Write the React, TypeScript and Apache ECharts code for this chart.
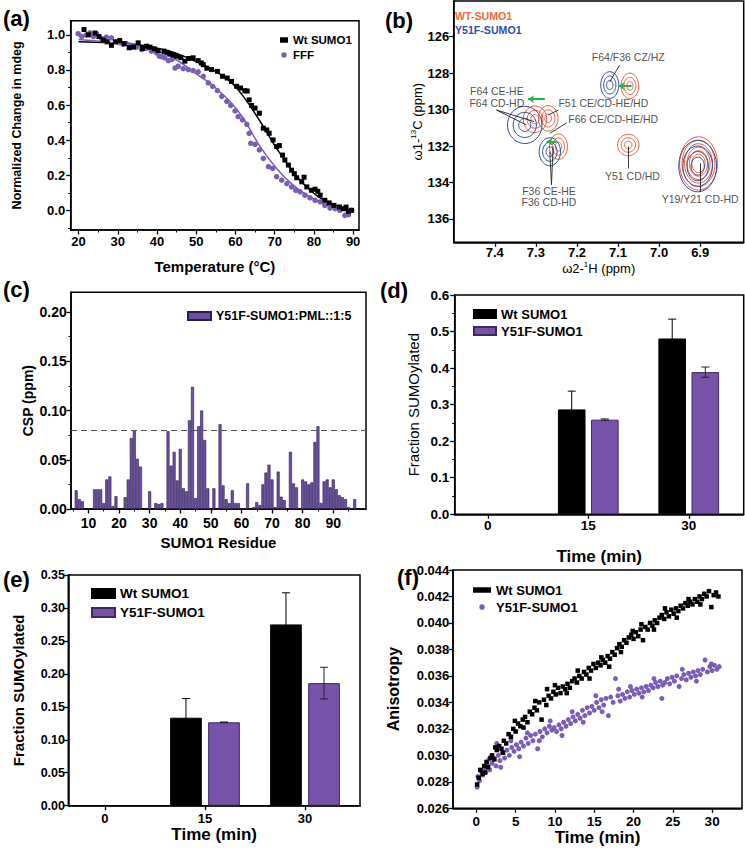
import React, { useEffect, useRef } from 'react';
import * as echarts from 'echarts';

const F = '"Liberation Sans", Arial, Helvetica, sans-serif';
const PURPLE = '#7b5cb6';
const BAR_PURPLE = '#7852a9';
const NMR_RED = '#ee5b3a';
const NMR_BLUE = '#2c4b9f';
const GREEN = '#2bb04a';

// ---------- (a) thermal melt ----------
const aXTicks = [20, 30, 40, 50, 60, 70, 80, 90];
const aYTicks = [0, 0.2, 0.4, 0.6, 0.8, 1.0];
const aWtPoints: [number, number][] = [
  [21.4, 1.03], [22.5, 1.0], [24.2, 1.01], [25.2, 0.99], [26.3, 0.97], [27.3, 0.96], [28.4, 0.94], [29.4, 0.96],
  [30.5, 0.967], [31.6, 0.95], [32.9, 0.926], [34.0, 0.93], [35.2, 0.954], [36.3, 0.922], [37.3, 0.935], [38.2, 0.93],
  [39.3, 0.92], [40.3, 0.91], [41.8, 0.907], [42.6, 0.9], [43.3, 0.891], [44.2, 0.885], [45.0, 0.878], [46.1, 0.87],
  [47.1, 0.85], [48.1, 0.865], [49.2, 0.869], [50.5, 0.853], [51.3, 0.84], [51.8, 0.83], [52.7, 0.81], [53.9, 0.802],
  [55.4, 0.792], [56.7, 0.764], [57.9, 0.754], [59.0, 0.735], [60.3, 0.707], [61.3, 0.697], [62.4, 0.682], [63.0, 0.68],
  [63.5, 0.63], [64.1, 0.598], [65.0, 0.583], [66.1, 0.554], [67.1, 0.469], [68.0, 0.459], [68.6, 0.44], [69.6, 0.402],
  [70.5, 0.364], [71.2, 0.37], [72.0, 0.316], [72.6, 0.288], [73.5, 0.259], [74.3, 0.23], [75.0, 0.21], [75.6, 0.187],
  [76.9, 0.164], [77.5, 0.19], [78.2, 0.135], [79.4, 0.116], [80.3, 0.122], [81.0, 0.11], [81.6, 0.088], [82.8, 0.059],
  [83.9, 0.044], [85.1, 0.03], [86.5, 0.021], [87.5, 0.011], [88.2, 0.02], [88.8, -0.004], [89.6, 0.002],
];
const aFffPoints: [number, number][] = [
  [19.9, 1.006], [20.8, 0.99], [21.9, 0.998], [22.9, 1.011], [23.8, 0.99], [24.6, 1.006], [25.9, 0.979], [27.1, 0.987],
  [28.4, 0.983], [29.7, 0.96], [30.5, 0.955], [31.4, 0.945], [32.2, 0.95], [33.1, 0.941], [34.0, 0.935], [34.8, 0.93],
  [36.1, 0.916], [37.3, 0.922], [38.6, 0.907], [39.9, 0.897], [40.6, 0.878], [41.3, 0.875], [42.0, 0.869], [42.9, 0.853],
  [43.8, 0.86], [44.6, 0.811], [45.4, 0.821], [46.7, 0.807], [48.0, 0.802], [49.2, 0.796], [50.5, 0.789], [51.8, 0.764],
  [53.1, 0.726], [54.2, 0.707], [55.4, 0.682], [56.5, 0.65], [57.8, 0.621], [58.8, 0.598], [59.9, 0.567], [60.7, 0.535],
  [61.8, 0.516], [62.9, 0.491], [63.5, 0.44], [63.9, 0.383], [65.0, 0.377], [66.1, 0.345], [67.1, 0.297], [68.4, 0.25],
  [69.5, 0.24], [70.5, 0.193], [71.8, 0.173], [73.1, 0.154], [74.3, 0.135], [75.4, 0.116], [76.5, 0.107], [77.7, 0.088],
  [79.0, 0.073], [80.3, 0.059], [81.6, 0.05], [82.8, 0.03], [84.1, 0.015], [85.4, 0.011], [86.6, 0.002], [87.9, -0.027],
  [88.8, -0.023], [89.6, 0.002],
];
const aWtFit: [number, number][] = [
  [20, 0.96], [34.8, 0.945], [43.3, 0.907], [51.8, 0.83], [53.5, 0.811], [58.6, 0.735], [62, 0.65], [66.3, 0.507],
  [70.5, 0.354], [74.7, 0.221], [79, 0.116], [83.3, 0.05], [89.2, 0.002], [90, 0],
];
const aFffFit: [number, number][] = [
  [20, 0.973], [34.8, 0.935], [43.3, 0.878], [51.8, 0.75], [53.5, 0.726], [58.6, 0.621], [62, 0.526], [66.3, 0.364],
  [70.5, 0.24], [74.7, 0.145], [79, 0.078], [83.3, 0.03], [89.2, -0.004], [90, -0.005],
];
const aXMinor = [25, 35, 45, 55, 65, 75, 85];
const aYMinor = [-0.1, 0.1, 0.3, 0.5, 0.7, 0.9];

// ---------- (b) NMR ----------
const bXTicks = [7.4, 7.3, 7.2, 7.1, 7.0, 6.9];
const bYTicks = [126, 128, 130, 132, 134, 136];
// [center 1H, center 13C, radius 1H, radius 13C, number of contour levels]
const bRedPeaks = [
  [7.071, 128.7, 0.0215, 0.7, 3],
  [7.075, 131.94, 0.026, 0.59, 3],
  [6.904, 132.95, 0.046, 1.46, 6],
  [7.302, 130.53, 0.0285, 0.73, 3],
  [7.27, 130.48, 0.024, 0.7, 3],
  [7.245, 132.03, 0.022, 0.7, 3],
];
const bBluePeaks = [
  [7.12, 128.65, 0.022, 0.73, 3],
  [7.327, 130.84, 0.042, 1.02, 3],
  [7.266, 132.31, 0.026, 0.77, 3],
  [6.906, 133.1, 0.046, 1.41, 4],
];
const bLabels: [number, number, string, string][] = [
  [7.075, 127.14, 'F64/F36 CZ/HZ', 'center'],
  [7.395, 128.98, 'F64 CE-HE', 'center'],
  [7.395, 129.61, 'F64 CD-HD', 'center'],
  [7.245, 129.61, 'F51 CE/CD-HE/HD', 'left'],
  [7.221, 130.54, 'F66 CE/CD-HE/HD', 'left'],
  [7.268, 134.45, 'F36 CE-HE', 'center'],
  [7.268, 135.08, 'F36 CD-HD', 'center'],
  [7.065, 133.64, 'Y51 CD/HD', 'center'],
  [6.9, 134.93, 'Y19/Y21 CD-HD', 'center'],
];
const bLeaders: [number, number][][] = [
  [[7.096, 127.55], [7.12, 128.48]],
  [[7.396, 130.02], [7.323, 130.84]],
  [[7.396, 130.02], [7.304, 130.66]],
  [[7.245, 130.02], [7.27, 130.3]],
  [[7.225, 130.73], [7.266, 131.3]],
  [[7.262, 134.13], [7.266, 132.31]],
  [[7.262, 134.13], [7.258, 132.03]],
  [[7.075, 133.22], [7.075, 132.03]],
  [[6.9, 134.5], [6.9, 132.94]],
];
const bShiftArrows: [number, number][][] = [
  [[7.278, 129.43], [7.319, 129.43]],
  [[7.25, 131.76], [7.274, 131.76]],
  [[7.067, 128.7], [7.099, 128.7]],
];

// ---------- (c) CSP ----------
const cXTicks = [10, 20, 30, 40, 50, 60, 70, 80, 90];
const cXMinor = [5, 15, 25, 35, 45, 55, 65, 75, 85, 95];
const cYTicks = [0, 0.05, 0.1, 0.15, 0.2];
const cYMinor = [0.025, 0.075, 0.125, 0.175];
const cThreshold = 0.076;
const cResidues = [
  6, 7, 8, 12, 13, 14, 15, 16, 17, 18, 19, 22, 23, 24, 25, 26, 27, 30, 32, 33, 34, 36, 37, 38, 39, 40, 41, 42, 43, 44,
  45, 46, 47, 48, 49, 51, 53, 54, 55, 56, 57, 58, 59, 62, 64, 65, 66, 67, 68, 69, 70, 71, 72, 73, 74, 76, 77, 78, 80,
  81, 82, 83, 84, 85, 86, 87, 88, 89, 90, 91, 92, 93, 94, 95, 96, 97,
];
const cCsp = [
  0.019, 0.01, 0.008, 0.02, 0.02, 0.02, 0.006, 0.03, 0.033, 0.003, 0.013, 0.012, 0.03, 0.072, 0.08, 0.051, 0.043, 0.018,
  0.006, 0.005, 0.006, 0.079, 0.044, 0.058, 0.029, 0.061, 0.021, 0.018, 0.09, 0.124, 0.011, 0.084, 0.1, 0.07, 0.021,
  0.021, 0.086, 0.024, 0.01, 0.006, 0.019, 0.006, 0.006, 0.026, 0.002, 0.007, 0.004, 0.025, 0.037, 0.045, 0.03, 0.002,
  0.038, 0.0125, 0.009, 0.058, 0.026, 0.022, 0.03, 0.028, 0.025, 0.027, 0.068, 0.084, 0.006, 0.028, 0.03, 0.022, 0.03,
  0.02, 0.014, 0.012, 0.01, 0.002, 0.001, 0.01,
];

// ---------- (d), (e) SUMOylation ----------
const timePoints = [0, 15, 30];
const dYTicks = [0, 0.1, 0.2, 0.3, 0.4, 0.5, 0.6];
const dYMinor = [0.05, 0.15, 0.25, 0.35, 0.45, 0.55];
const dWt = [0, 0.287, 0.481];
const dWtErr = [0, 0.05, 0.053];
const dY51F = [0, 0.259, 0.389];
const dY51FErr = [0, 0.002, 0.014];
const eYTicks = [0, 0.05, 0.1, 0.15, 0.2, 0.25, 0.3, 0.35];
const eWt = [0, 0.1335, 0.275];
const eWtErr = [0, 0.029, 0.048];
const eY51F = [0, 0.1265, 0.186];
const eY51FErr = [0, 0.0005, 0.024];

// ---------- (f) anisotropy ----------
const fXTicks = [0, 5, 10, 15, 20, 25, 30];
const fYTicks = [0.026, 0.028, 0.03, 0.032, 0.034, 0.036, 0.038, 0.04, 0.042, 0.044];
const fWtPoints: [number, number][] = [
  [0.1, 0.0278], [0.3, 0.0283], [0.5, 0.0289], [0.8, 0.0286], [1.0, 0.0292], [1.3, 0.0295], [1.5, 0.0291], [1.8, 0.0298],
  [2.0, 0.03], [2.3, 0.0297], [2.6, 0.0304], [2.9, 0.0307], [3.2, 0.0305], [3.5, 0.0311], [3.8, 0.0309], [4.1, 0.0316],
  [4.4, 0.0314], [4.7, 0.032], [5.0, 0.0318], [5.3, 0.0324], [5.6, 0.0322], [5.9, 0.0327], [6.2, 0.0329], [6.5, 0.0325],
  [6.8, 0.0333], [7.1, 0.0331], [7.4, 0.0336], [7.7, 0.0334], [8.0, 0.034], [8.3, 0.0327], [8.6, 0.0342], [8.9, 0.0338],
  [9.2, 0.0345], [9.5, 0.0343], [9.8, 0.0348], [10.1, 0.0346], [10.4, 0.0351], [10.7, 0.0347], [11.0, 0.0352],
  [11.3, 0.035], [11.6, 0.0354], [11.9, 0.0351], [12.2, 0.0356], [12.5, 0.0358], [12.8, 0.0355], [13.1, 0.036],
  [13.4, 0.0358], [13.7, 0.0363], [14.0, 0.0361], [14.3, 0.0366], [14.6, 0.0364], [14.9, 0.0369], [15.2, 0.0366],
  [15.5, 0.037], [15.8, 0.0368], [16.1, 0.0372], [16.4, 0.037], [16.7, 0.0375], [17.0, 0.0373], [17.3, 0.0378],
  [17.6, 0.0376], [17.9, 0.0381], [18.2, 0.0384], [18.5, 0.0382], [18.8, 0.0387], [19.1, 0.0385], [19.4, 0.0389],
  [19.7, 0.0391], [20.0, 0.0388], [20.3, 0.0393], [20.6, 0.039], [20.9, 0.0395], [21.2, 0.0387], [21.5, 0.0397],
  [21.8, 0.0395], [22.1, 0.04], [22.4, 0.0398], [22.7, 0.0402], [23.0, 0.04], [23.3, 0.0404], [23.6, 0.0406],
  [23.9, 0.0403], [24.2, 0.0408], [24.5, 0.0405], [24.8, 0.041], [25.1, 0.0407], [25.4, 0.0411], [25.7, 0.0409],
  [26.0, 0.0413], [26.3, 0.0411], [26.6, 0.0415], [26.9, 0.0413], [27.2, 0.0416], [27.5, 0.0414], [27.8, 0.0418],
  [28.1, 0.0416], [28.4, 0.042], [28.7, 0.0418], [29.0, 0.0422], [29.3, 0.042], [29.6, 0.0424], [29.9, 0.0412],
  [30.2, 0.0421], [30.5, 0.0423], [30.8, 0.042],
  [1.1, 0.0287], [2.4, 0.0306], [3.4, 0.0302], [4.9, 0.0326], [6.0, 0.0321], [7.5, 0.0341], [9.0, 0.035],
  [10.0, 0.0353], [11.5, 0.0347], [12.9, 0.0364], [14.4, 0.0358], [15.9, 0.0374], [16.9, 0.0367], [18.4, 0.0378],
  [19.9, 0.0394], [21.0, 0.0399], [22.6, 0.0395], [24.0, 0.0411], [25.5, 0.0404], [27.0, 0.0418], [28.5, 0.0414],
];
const fY51FPoints: [number, number][] = [
  [0.1, 0.0276], [0.2, 0.0284], [0.4, 0.0281], [0.6, 0.0288], [0.8, 0.0285], [1.0, 0.029], [1.2, 0.0287], [1.4, 0.0293],
  [1.7, 0.0289], [2.0, 0.0294], [2.2, 0.0298], [2.5, 0.0292], [2.8, 0.03], [3.0, 0.0296], [3.3, 0.0302], [3.6, 0.0298],
  [3.9, 0.0304], [4.2, 0.03], [4.5, 0.0306], [4.8, 0.0303], [5.1, 0.0308], [5.4, 0.0305], [5.7, 0.031], [6.0, 0.0307],
  [6.3, 0.0313], [6.6, 0.0309], [6.9, 0.0315], [7.2, 0.0311], [7.5, 0.0316], [7.8, 0.0305], [8.1, 0.0318], [8.4, 0.0314],
  [8.7, 0.032], [9.0, 0.0317], [9.3, 0.0322], [9.6, 0.0319], [9.9, 0.0321], [10.2, 0.0318], [10.5, 0.0323],
  [10.8, 0.032], [11.1, 0.0325], [11.4, 0.0322], [11.7, 0.0327], [12.0, 0.0324], [12.3, 0.0329], [12.6, 0.0326],
  [12.9, 0.0331], [13.2, 0.0328], [13.5, 0.0334], [13.8, 0.033], [14.1, 0.0336], [14.4, 0.0332], [14.7, 0.0337],
  [15.0, 0.0334], [15.3, 0.034], [15.6, 0.0336], [15.9, 0.0342], [16.2, 0.0338], [16.5, 0.0343], [16.8, 0.033],
  [17.1, 0.0344], [17.4, 0.034], [17.7, 0.0358], [18.0, 0.0345], [18.3, 0.0341], [18.6, 0.0346], [18.9, 0.0343],
  [19.2, 0.0348], [19.5, 0.0344], [19.8, 0.0349], [20.1, 0.0346], [20.4, 0.035], [20.7, 0.0347], [21.0, 0.0351],
  [21.3, 0.0348], [21.6, 0.0352], [21.9, 0.0349], [22.2, 0.0353], [22.5, 0.0351], [22.8, 0.0355], [23.1, 0.0352],
  [23.4, 0.0356], [23.6, 0.0343], [23.7, 0.0353], [24.0, 0.0355], [24.3, 0.0358], [24.6, 0.0354], [24.9, 0.0359],
  [25.2, 0.0356], [25.5, 0.036], [26.1, 0.0358], [26.4, 0.0361], [26.7, 0.0357], [27.0, 0.0362], [27.3, 0.0359],
  [27.6, 0.0363], [27.9, 0.036], [28.2, 0.0364], [28.5, 0.0361], [28.8, 0.0365], [29.1, 0.0372], [29.4, 0.0363],
  [29.7, 0.0367], [30.0, 0.0364], [30.3, 0.0368], [30.6, 0.0365], [30.9, 0.0367],
  [1.6, 0.0297], [2.6, 0.0309], [3.1, 0.0291], [4.4, 0.0311], [5.5, 0.0299], [6.5, 0.0317], [8.0, 0.0311],
  [9.4, 0.0326], [10.9, 0.0315], [12.2, 0.0333], [13.6, 0.0325], [15.2, 0.0345], [16.0, 0.0333], [18.1, 0.035],
  [19.6, 0.0352], [21.1, 0.0344], [22.6, 0.0358], [25.8, 0.0352], [26.2, 0.0365], [28.0, 0.0356], [29.9, 0.0369],
];

// ---------- helpers ----------
const fixed = (n: number) => (v: number) => Number(v).toFixed(n);
const trimName = (n: string) => n.trim();

function axis(o: any) {
  return {
    type: 'value',
    gridIndex: o.grid,
    min: o.min,
    max: o.max,
    inverse: !!o.inverse,
    position: o.isY ? 'left' : 'bottom',
    axisLine: { show: true, onZero: false, lineStyle: { color: '#000', width: 1.5 } },
    axisTick: { show: true, length: 4.5, customValues: o.ticks, lineStyle: { color: '#000', width: 1.3 } },
    axisLabel: {
      customValues: o.ticks,
      formatter: o.fmt,
      color: '#000',
      fontFamily: F,
      fontWeight: 'bold',
      fontSize: o.size,
      margin: o.margin,
    },
    splitLine: { show: false },
    name: o.name,
    nameLocation: 'middle',
    nameGap: o.gap,
    nameRotate: o.isY ? 90 : 0,
    nameTextStyle: {
      color: '#000',
      fontFamily: F,
      fontWeight: o.nameWeight || 'bold',
      fontSize: o.nameSize,
      rich: o.rich,
    },
  };
}

// tick-only twin axis for minor ticks, sitting on the same edge as the main axis
function minorAxis(grid: number, min: number, max: number, ticks: number[], isY: boolean) {
  return {
    type: 'value', gridIndex: grid, min, max,
    position: isY ? 'left' : 'bottom',
    offset: 0,
    axisLine: { show: false, onZero: false },
    axisTick: { show: true, length: 2.5, customValues: ticks, lineStyle: { color: '#000', width: 1 } },
    axisLabel: { show: false, customValues: ticks },
    splitLine: { show: false },
  };
}

function contourData(peaks: number[][]) {
  const out: number[][] = [];
  peaks.forEach(([x, y, rx, ry, n]) => {
    for (let k = 0; k < n; k++) {
      const s = n > 1 ? 1 - (k * 0.65) / (n - 1) : 1;
      out.push([x, y, rx * s, ry * s]);
    }
  });
  return out;
}

function contourSeries(peaks: number[][], color: string) {
  return {
    type: 'custom',
    xAxisIndex: 1,
    yAxisIndex: 1,
    clip: true,
    data: contourData(peaks),
    renderItem: (_p: any, api: any) => {
      const xc = api.value(0), yc = api.value(1), rx = api.value(2), ry = api.value(3);
      const pts: number[][] = [];
      for (let i = 0; i < 48; i++) {
        const t = (i / 48) * Math.PI * 2;
        pts.push(api.coord([xc + rx * Math.cos(t), yc + ry * Math.sin(t)]));
      }
      return { type: 'polygon', shape: { points: pts }, style: { fill: 'none', stroke: color, lineWidth: 1 } };
    },
    z: 2,
  };
}

function errSeries(grid: number, vals: number[], errs: number[], shift: number, color: string) {
  const data = timePoints
    .map((t, i) => [t, vals[i] - errs[i], vals[i] + errs[i], errs[i]])
    .filter((d) => d[3] > 0);
  return {
    type: 'custom',
    xAxisIndex: grid,
    yAxisIndex: grid,
    data,
    z: 5,
    renderItem: (_p: any, api: any) => {
      const x = api.value(0);
      const lo = api.coord([x, api.value(1)]);
      const hi = api.coord([x, api.value(2)]);
      const cx = hi[0] + shift;
      const st = { stroke: color, lineWidth: 1 };
      return {
        type: 'group',
        children: [
          { type: 'line', shape: { x1: cx, y1: lo[1], x2: cx, y2: hi[1] }, style: st },
          { type: 'line', shape: { x1: cx - 4, y1: hi[1], x2: cx + 4, y2: hi[1] }, style: st },
          { type: 'line', shape: { x1: cx - 4, y1: lo[1], x2: cx + 4, y2: lo[1] }, style: st },
        ],
      };
    },
  };
}

const nz = (v: number) => (v === 0 ? '-' : v);

function barPair(grid: number, wt: number[], mut: number[], wtName: string, mutName: string, w: number) {
  return [
    {
      type: 'bar', name: wtName, xAxisIndex: grid, yAxisIndex: grid, barWidth: w, barGap: '20%',
      data: timePoints.map((t, i) => [t, nz(wt[i])]),
      itemStyle: { color: '#000', borderColor: '#000', borderWidth: 1 },
    },
    {
      type: 'bar', name: mutName, xAxisIndex: grid, yAxisIndex: grid, barWidth: w, barGap: '20%',
      data: timePoints.map((t, i) => [t, nz(mut[i])]),
      itemStyle: { color: BAR_PURPLE, borderColor: '#3a2a5c', borderWidth: 1 },
    },
  ];
}

const legendText = (size: number, lh: number) => ({ color: '#000', fontFamily: F, fontWeight: 'bold', fontSize: size, lineHeight: lh });

function panelLabel(text: string, x: number, y: number) {
  return {
    type: 'text', x, y,
    style: { text, fill: '#000', fontFamily: F, fontWeight: 'bold', fontSize: 22, verticalAlign: 'middle' },
  };
}

export default function App() {
  const ref = useRef<HTMLDivElement>(null);
  useEffect(() => {
    if (!ref.current) return;
    const chart = echarts.init(ref.current, undefined, { renderer: 'svg' });
    const gridBox = { show: true, borderColor: '#000', borderWidth: 1.5, backgroundColor: 'transparent', containLabel: false };
    const dShift = (27.6 * 1.2) / 2;
    const eShift = (31.7 * 1.2) / 2;
    const rich = {
      a: { fontSize: 13, fontFamily: F, lineHeight: 16, color: '#000' },
      s: { fontSize: 8, fontFamily: F, verticalAlign: 'top', lineHeight: 16, color: '#000' },
    };

    const option: any = {
      animation: false,
      backgroundColor: '#fff',
      grid: [
        { ...gridBox, left: 70.7, top: 20.7, width: 288.3, height: 209.3 },
        { ...gridBox, left: 453.7, top: 1, width: 290, height: 241.3 },
        { ...gridBox, left: 71, top: 292.3, width: 295, height: 216.7 },
        { ...gridBox, left: 454.7, top: 295, width: 289, height: 219.3 },
        { ...gridBox, left: 68.3, top: 575, width: 291.7, height: 230.7 },
        { ...gridBox, left: 453, top: 570, width: 289, height: 238.3 },
      ],
      xAxis: [
        axis({ grid: 0, min: 18, max: 91.5, ticks: aXTicks, fmt: fixed(0), size: 13, margin: 5, name: 'Temperature (°C)', gap: 29, nameSize: 15 }),
        axis({
          grid: 1, min: 6.794, max: 7.5, inverse: true, ticks: bXTicks, fmt: fixed(1), size: 13, margin: 4,
          name: '{a|ω2-}{s|1}{a|H (ppm)}', gap: 15, nameSize: 13, nameWeight: 'normal', rich,
        }),
        axis({ grid: 2, min: 4.3, max: 100.7, ticks: cXTicks, fmt: fixed(0), size: 14, margin: 7, name: 'SUMO1 Residue', gap: 26, nameSize: 15 }),
        axis({ grid: 3, min: -4.94, max: 38.2, ticks: timePoints, fmt: fixed(0), size: 13.5, margin: 4, name: 'Time (min)', gap: 34, nameSize: 17 }),
        axis({ grid: 4, min: -5.5, max: 38.25, ticks: timePoints, fmt: fixed(0), size: 13, margin: 6, name: 'Time (min)', gap: 17, nameSize: 17 }),
        axis({ grid: 5, min: -2.97, max: 33.8, ticks: fXTicks, fmt: fixed(0), size: 13.5, margin: 6, name: 'Time (min)', gap: 21, nameSize: 17 }),
        minorAxis(0, 18, 91.5, aXMinor, false),
        minorAxis(2, 4.3, 100.7, cXMinor, false),
      ],
      yAxis: [
        axis({ grid: 0, min: -0.11, max: 1.08, ticks: aYTicks, fmt: fixed(1), size: 13, margin: 5.5, name: 'Normalized Change in mdeg', gap: 47, nameSize: 12.5, isY: true }),
        axis({
          grid: 1, min: 124.04, max: 137.28, inverse: true, ticks: bYTicks, fmt: fixed(0), size: 13, margin: 4.4, isY: true,
          name: '{a|ω1-}{s|13}{a|C (ppm)}', gap: 17, nameSize: 13, nameWeight: 'normal', rich,
        }),
        axis({ grid: 2, min: 0, max: 0.22, ticks: cYTicks, fmt: fixed(2), size: 14, margin: 4.3, name: 'CSP (ppm)', gap: 36, nameSize: 14, isY: true }),
        axis({ grid: 3, min: 0, max: 0.6, ticks: dYTicks, fmt: fixed(1), size: 13.5, margin: 5.4, name: 'Fraction SUMOylated', gap: 34, nameSize: 15, nameWeight: 'normal', isY: true }),
        axis({ grid: 4, min: 0, max: 0.35, ticks: eYTicks, fmt: fixed(2), size: 12.5, margin: 3.3, name: 'Fraction SUMOylated', gap: 42, nameSize: 15, isY: true }),
        axis({ grid: 5, min: 0.026, max: 0.044, ticks: fYTicks, fmt: fixed(3), size: 13, margin: 3.7, name: 'Anisotropy', gap: 52, nameSize: 16, isY: true }),
        minorAxis(0, -0.11, 1.08, aYMinor, true),
        minorAxis(2, 0, 0.22, cYMinor, true),
        minorAxis(3, 0, 0.6, dYMinor, true),
      ],
      legend: [
        {
          data: [{ name: 'Wt SUMO1', icon: 'rect' }, { name: 'FFF', icon: 'circle' }],
          left: 275, top: 28, orient: 'vertical', itemWidth: 8, itemHeight: 5.5, itemGap: 1,
          textStyle: legendText(11.5, 14), formatter: trimName, selectedMode: false,
        },
        {
          data: ['Y51F-SUMO1:PML::1:5'], icon: 'rect', symbolKeepAspect: false,
          left: 182, top: 304, itemWidth: 23, itemHeight: 8, textStyle: legendText(12.5, 14), selectedMode: false,
        },
        {
          data: ['Wt SUMO1 ', 'Y51F-SUMO1 '], icon: 'rect', symbolKeepAspect: false, orient: 'vertical',
          left: 468, top: 302, itemWidth: 22, itemHeight: 8, itemGap: 3, textStyle: legendText(13, 14),
          formatter: trimName, selectedMode: false,
        },
        {
          data: ['Wt SUMO1  ', 'Y51F-SUMO1  '], icon: 'rect', symbolKeepAspect: false, orient: 'vertical',
          left: 86, top: 581.5, itemWidth: 23, itemHeight: 9, itemGap: 5, textStyle: legendText(13.5, 14),
          formatter: trimName, selectedMode: false,
        },
        {
          data: [{ name: 'Wt SUMO1   ', icon: 'rect' }, { name: 'Y51F-SUMO1   ', icon: 'circle' }],
          left: 468, top: 578, orient: 'vertical', itemWidth: 18, itemHeight: 5.5, itemGap: 3,
          textStyle: legendText(13, 14), formatter: trimName, selectedMode: false,
        },
      ],
      graphic: [
        panelLabel('(a)', 3, 18),
        panelLabel('(b)', 385, 20),
        panelLabel('(c)', 3, 289),
        panelLabel('(d)', 380, 290),
        panelLabel('(e)', 3, 579),
        panelLabel('(f)', 397, 577),
        { type: 'text', x: 455, y: 16, style: { text: 'WT-SUMO1', fill: '#f26a3a', fontFamily: F, fontWeight: 'bold', fontSize: 10.6, verticalAlign: 'middle' } },
        { type: 'text', x: 455, y: 30, style: { text: 'Y51F-SUMO1', fill: '#2d4fa5', fontFamily: F, fontWeight: 'bold', fontSize: 10.6, verticalAlign: 'middle' } },
      ],
      series: [
        // (a)
        { type: 'line', name: 'WtFit', xAxisIndex: 0, yAxisIndex: 0, data: aWtFit, smooth: 0.35, symbol: 'none', lineStyle: { color: '#000', width: 1.5 }, z: 1 },
        { type: 'line', name: 'FffFit', xAxisIndex: 0, yAxisIndex: 0, data: aFffFit, smooth: 0.35, symbol: 'none', lineStyle: { color: PURPLE, width: 1.5 }, z: 1 },
        { type: 'scatter', name: 'Wt SUMO1', xAxisIndex: 0, yAxisIndex: 0, data: aWtPoints, symbol: 'rect', symbolSize: 5, itemStyle: { color: '#000', opacity: 1 }, z: 3 },
        { type: 'scatter', name: 'FFF', xAxisIndex: 0, yAxisIndex: 0, data: aFffPoints, symbol: 'circle', symbolSize: 5.5, itemStyle: { color: PURPLE, opacity: 1 }, z: 2 },
        // (b)
        contourSeries(bRedPeaks, NMR_RED),
        contourSeries(bBluePeaks, NMR_BLUE),
        {
          type: 'lines', coordinateSystem: 'cartesian2d', xAxisIndex: 1, yAxisIndex: 1,
          data: bLeaders.map((c) => ({ coords: c })), symbol: 'none', lineStyle: { color: '#222', width: 0.9, opacity: 1 }, z: 4,
        },
        {
          type: 'lines', coordinateSystem: 'cartesian2d', xAxisIndex: 1, yAxisIndex: 1,
          data: bShiftArrows.map((c) => ({ coords: c })), symbol: ['none', 'arrow'], symbolSize: 6,
          lineStyle: { color: GREEN, width: 2, opacity: 1 }, z: 5,
        },
        {
          type: 'scatter', xAxisIndex: 1, yAxisIndex: 1, symbolSize: 1, itemStyle: { color: 'rgba(0,0,0,0)' }, z: 6,
          data: bLabels.map(([x, y, t, al]) => ({
            value: [x, y],
            label: { show: true, position: 'inside', formatter: t, align: al, verticalAlign: 'middle', color: '#222', fontFamily: F, fontSize: 10.5 },
          })),
        },
        // (c)
        {
          type: 'bar', name: 'Y51F-SUMO1:PML::1:5', xAxisIndex: 2, yAxisIndex: 2, barWidth: 3,
          data: cResidues.map((r, i) => [r, cCsp[i]]),
          itemStyle: { color: '#6c4fa3', borderColor: '#2b1d4d', borderWidth: 0.6 },
          markLine: {
            silent: true, symbol: 'none', label: { show: false },
            lineStyle: { type: [6, 4], color: '#555', width: 1.2 },
            data: [{ yAxis: cThreshold }],
          },
        },
        // (d)
        ...barPair(3, dWt, dY51F, 'Wt SUMO1 ', 'Y51F-SUMO1 ', 27.6),
        errSeries(3, dWt, dWtErr, -dShift, '#000'),
        errSeries(3, dY51F, dY51FErr, dShift, '#222'),
        // (e)
        ...barPair(4, eWt, eY51F, 'Wt SUMO1  ', 'Y51F-SUMO1  ', 31.7),
        errSeries(4, eWt, eWtErr, -eShift, '#000'),
        errSeries(4, eY51F, eY51FErr, eShift, '#222'),
        // (f)
        { type: 'scatter', name: 'Wt SUMO1   ', xAxisIndex: 5, yAxisIndex: 5, data: fWtPoints, symbol: 'rect', symbolSize: 4.5, itemStyle: { color: '#000', opacity: 1 }, z: 3 },
        { type: 'scatter', name: 'Y51F-SUMO1   ', xAxisIndex: 5, yAxisIndex: 5, data: fY51FPoints, symbol: 'circle', symbolSize: 5, itemStyle: { color: PURPLE, opacity: 1 }, z: 2 },
      ],
    };
    chart.setOption(option);
    return () => chart.dispose();
  }, []);
  return <div ref={ref} style={{ position: 'fixed', left: 0, top: 0, width: 745, height: 855 }} />;
}
